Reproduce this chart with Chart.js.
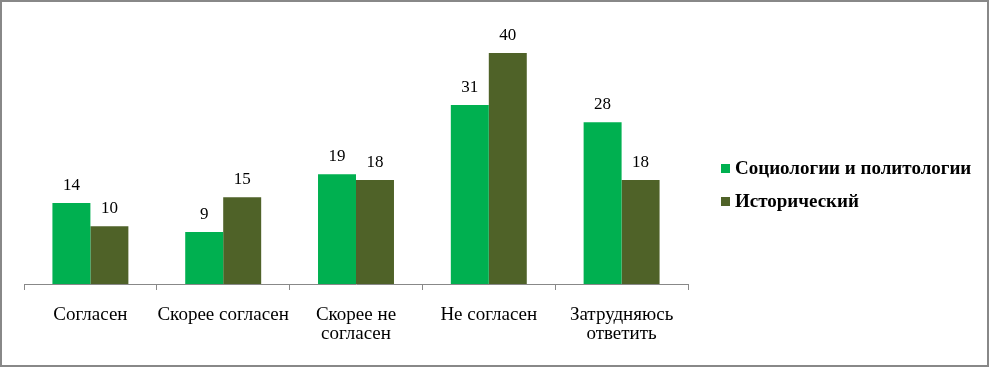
<!DOCTYPE html>
<html>
<head>
<meta charset="utf-8">
<script src="https://cdn.jsdelivr.net/npm/chart.js@4/dist/chart.umd.min.js"></script>
<style>
  body { margin: 0; background: #fff; }
  canvas { display: block; }
</style>
</head>
<body>
<canvas id="chart" width="990" height="368"></canvas>
<script>
// Categories and series
const categories = ['Согласен', 'Скорее согласен', ['Скорее не', 'согласен'], 'Не согласен', ['Затрудняюсь', 'ответить']];
const seriesNames = ['Социологии и политологии', 'Исторический'];
const sociology = [14, 9, 19, 31, 28];
const historical = [10, 15, 18, 40, 18];
const colors = ['#00B050', '#4F6228'];

const serif = '"Liberation Serif", "Times New Roman", serif';

// Value labels above each bar
const valueLabels = {
  id: 'valueLabels',
  afterDatasetsDraw(chart) {
    const ctx = chart.ctx;
    ctx.save();
    ctx.font = '17px ' + serif;
    ctx.fillStyle = '#000';
    ctx.textAlign = 'center';
    ctx.textBaseline = 'alphabetic';
    chart.data.datasets.forEach((ds, i) => {
      chart.getDatasetMeta(i).data.forEach((bar, j) => {
        ctx.fillText(ds.data[j], bar.x, bar.y - 13);
      });
    });
    ctx.restore();
  }
};

// Legend on the right and frame round the chart
const sideLegend = {
  id: 'sideLegend',
  afterDraw(chart) {
    const ctx = chart.ctx;
    ctx.save();
    ctx.font = 'bold 19px ' + serif;
    ctx.textBaseline = 'middle';
    const rows = [168, 201];
    seriesNames.forEach((name, i) => {
      ctx.fillStyle = colors[i];
      ctx.fillRect(721, rows[i] - 4, 9, 9);
      ctx.fillStyle = '#000';
      ctx.fillText(name, 735, rows[i] + 1);
    });
    ctx.strokeStyle = '#888';
    ctx.lineWidth = 2;
    ctx.strokeRect(1, 1, 987, 365);
    ctx.restore();
  }
};

new Chart(document.getElementById('chart'), {
  type: 'bar',
  data: {
    labels: categories,
    datasets: [
      { label: seriesNames[0], data: sociology, backgroundColor: colors[0] },
      { label: seriesNames[1], data: historical, backgroundColor: colors[1] }
    ]
  },
  options: {
    responsive: false,
    animation: false,
    layout: { padding: { left: 24, right: 302, top: 24, bottom: 0 } },
    datasets: { bar: { barPercentage: 1, categoryPercentage: 0.572 } },
    plugins: { legend: { display: false }, tooltip: { enabled: false } },
    scales: {
      x: {
        afterFit: (scale) => { scale.height = 84; },
        grid: { offset: true, drawOnChartArea: false, drawTicks: true, tickLength: 6, color: '#888' },
        border: { display: true, color: '#888' },
        ticks: { color: '#000', font: { family: serif, size: 19, lineHeight: 1.0 }, padding: 16, maxRotation: 0, autoSkip: false }
      },
      y: {
        display: false,
        min: 0,
        max: 45
      }
    }
  },
  plugins: [valueLabels, sideLegend]
});
</script>
</body>
</html>
